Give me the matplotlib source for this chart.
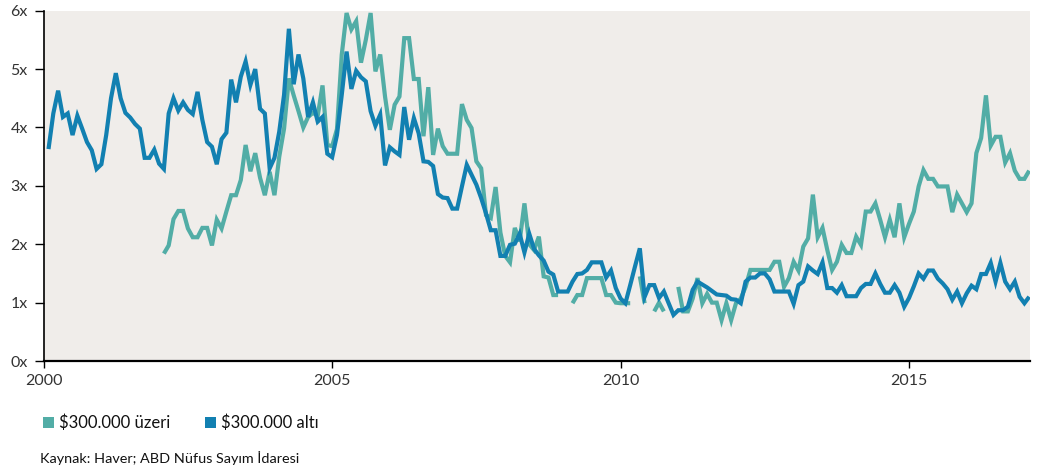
import numpy as np
import matplotlib
matplotlib.use("Agg")
import matplotlib.pyplot as plt
from matplotlib.patches import Patch

nan = np.nan

# Monthly series, Jan 2000 onward (ratio, "x")
start_year = 2000
series_labels = ["$300.000 üzeri", "$300.000 altı"]

above_300k = [
    nan, nan, nan, nan, nan, nan, nan, nan, nan, nan, nan, nan,
    nan, nan, nan, nan, nan, nan, nan, nan, nan, nan, nan, nan,
    1.84, 1.98, 2.43, 2.57, 2.57, 2.27, 2.12, 2.12, 2.28, 2.28, 1.98, 2.42,
    2.27, 2.56, 2.84, 2.84, 3.10, 3.70, 3.25, 3.56, 3.14, 2.84, 3.24, 2.84,
    3.50, 3.98, 4.84, 4.55, 4.28, 4.00, 4.18, 4.25, 4.20, 4.72, 3.70, 3.68,
    3.97, 5.25, 5.96, 5.68, 5.82, 5.11, 5.50, 5.96, 4.96, 5.25, 4.53, 3.96,
    4.39, 4.53, 5.53, 5.53, 4.83, 4.83, 3.85, 4.69, 3.53, 3.98, 3.68, 3.55,
    3.55, 3.55, 4.40, 4.13, 3.99, 3.42, 3.30, 2.50, 2.45, 2.98, 2.20, 1.80,
    1.69, 2.28, 2.05, 2.70, 2.00, 1.90, 2.13, 1.45, 1.43, 1.13, 1.13, nan,
    nan, 0.99, 1.13, 1.13, 1.42, 1.42, 1.42, 1.42, 1.13, 1.13, 1.00, 0.99,
    0.99, 0.99, nan, 1.45, 0.99, nan, 0.85, 1.00, 0.85, nan, nan, 1.27,
    0.85, 0.85, 1.07, 1.42, 0.99, 1.15, 1.00, 1.00, 0.70, 0.99, 0.70, 0.99,
    1.07, 1.27, 1.56, 1.56, 1.56, 1.56, 1.56, 1.70, 1.70, 1.27, 1.42, 1.70,
    1.55, 1.96, 2.10, 2.85, 2.12, 2.28, 1.90, 1.56, 1.70, 1.99, 1.85, 1.85,
    2.13, 1.99, 2.56, 2.56, 2.70, 2.42, 2.12, 2.42, 2.12, 2.70, 2.12, 2.35,
    2.56, 2.99, 3.27, 3.12, 3.12, 2.99, 2.99, 2.99, 2.55, 2.85, 2.70, 2.55,
    2.70, 3.56, 3.82, 4.55, 3.69, 3.84, 3.84, 3.40, 3.56, 3.26, 3.12, 3.12,
    3.26,
]

below_300k = [
    3.63, 4.24, 4.63, 4.18, 4.24, 3.87, 4.20, 3.98, 3.75, 3.61, 3.29, 3.37,
    3.87, 4.50, 4.93, 4.50, 4.25, 4.17, 4.06, 3.98, 3.48, 3.48, 3.62, 3.38,
    3.29, 4.24, 4.50, 4.29, 4.43, 4.30, 4.23, 4.61, 4.13, 3.75, 3.67, 3.37,
    3.80, 3.91, 4.82, 4.43, 4.87, 5.13, 4.73, 5.00, 4.32, 4.24, 3.30, 3.48,
    3.93, 4.56, 5.69, 4.74, 5.25, 4.84, 4.18, 4.43, 4.10, 4.18, 3.55, 3.49,
    3.87, 4.56, 5.30, 4.66, 4.97, 4.86, 4.79, 4.28, 4.03, 4.22, 3.35, 3.66,
    3.59, 3.53, 4.35, 3.79, 4.16, 3.90, 3.42, 3.41, 3.34, 2.86, 2.80, 2.79,
    2.61, 2.61, 2.99, 3.36, 3.19, 3.02, 2.79, 2.53, 2.24, 2.24, 1.80, 1.80,
    1.99, 2.01, 2.18, 1.86, 2.18, 1.92, 1.81, 1.72, 1.53, 1.48, 1.19, 1.19,
    1.19, 1.36, 1.49, 1.50, 1.56, 1.69, 1.69, 1.69, 1.43, 1.55, 1.25, 1.07,
    0.99, 1.30, 1.62, 1.93, 1.10, 1.30, 1.30, 1.08, 1.19, 0.99, 0.79, 0.87,
    0.87, 0.93, 1.22, 1.36, 1.31, 1.26, 1.20, 1.14, 1.13, 1.12, 1.06, 1.05,
    0.99, 1.36, 1.43, 1.43, 1.50, 1.50, 1.40, 1.19, 1.19, 1.19, 1.19, 0.98,
    1.30, 1.36, 1.62, 1.55, 1.49, 1.69, 1.25, 1.25, 1.17, 1.30, 1.11, 1.11,
    1.11, 1.25, 1.32, 1.32, 1.50, 1.32, 1.17, 1.17, 1.30, 1.17, 0.93, 1.08,
    1.28, 1.50, 1.41, 1.55, 1.55, 1.41, 1.33, 1.23, 1.05, 1.19, 0.99, 1.16,
    1.29, 1.23, 1.49, 1.49, 1.68, 1.36, 1.68, 1.36, 1.23, 1.36, 1.10, 0.99,
    1.10,
]

x_ticks = [2000, 2005, 2010, 2015]
y_ticks = [0, 1, 2, 3, 4, 5, 6]
source_text = "Kaynak: Haver; ABD Nüfus Sayım İdaresi"

teal = "#52ADA6"
blue = "#1280B1"
panel_bg = "#F0EDEA"
text_col = "#333333"

plt.rcParams["font.family"] = ["Lato", "DejaVu Sans"]

n = len(below_300k)
t = start_year + (np.arange(n) + 1) / 12.0

fig = plt.figure(figsize=(10.38, 4.71), dpi=100)
ax = fig.add_axes([0.0421, 0.2335, 0.9502, 0.7438])
ax.set_facecolor(panel_bg)

ax.plot(t, np.array(above_300k, dtype=float), color=teal, lw=3.0,
        solid_joinstyle="miter", solid_capstyle="butt")
ax.plot(t, np.array(below_300k, dtype=float), color=blue, lw=3.0,
        solid_joinstyle="miter", solid_capstyle="butt")

ax.set_xlim(2000, 2017.097)
ax.set_ylim(0, 6)
ax.set_xticks(x_ticks)
ax.set_xticklabels([str(v) for v in x_ticks])
ax.set_yticks(y_ticks)
ax.set_yticklabels([f"{v}x" for v in y_ticks])

for side in ("top", "right"):
    ax.spines[side].set_visible(False)
ax.spines["left"].set_color("black")
ax.spines["left"].set_linewidth(1.2)
ax.spines["bottom"].set_color("black")
ax.spines["bottom"].set_linewidth(1.6)

ax.tick_params(axis="y", direction="out", length=6.5, width=1.0,
               color="black", pad=5, labelsize=11.5, labelcolor=text_col)
ax.tick_params(axis="x", direction="out", length=5, width=1.0,
               color="black", pad=4, labelsize=11.5, labelcolor=text_col)

handles = [Patch(facecolor=teal, edgecolor="none", label=series_labels[0]),
           Patch(facecolor=blue, edgecolor="none", label=series_labels[1])]
fig.legend(handles=handles, loc="center left", bbox_to_anchor=(0.0414, 0.102),
           ncol=2, frameon=False, fontsize=12, handlelength=0.66,
           handleheight=0.66, handletextpad=0.3, columnspacing=2.1,
           borderpad=0, borderaxespad=0, labelcolor="#111111")

fig.text(0.0385, 0.0276, source_text, fontsize=10.4, color="#111111",
         ha="left", va="center")

fig.savefig("out.png", dpi=100, facecolor="white")
